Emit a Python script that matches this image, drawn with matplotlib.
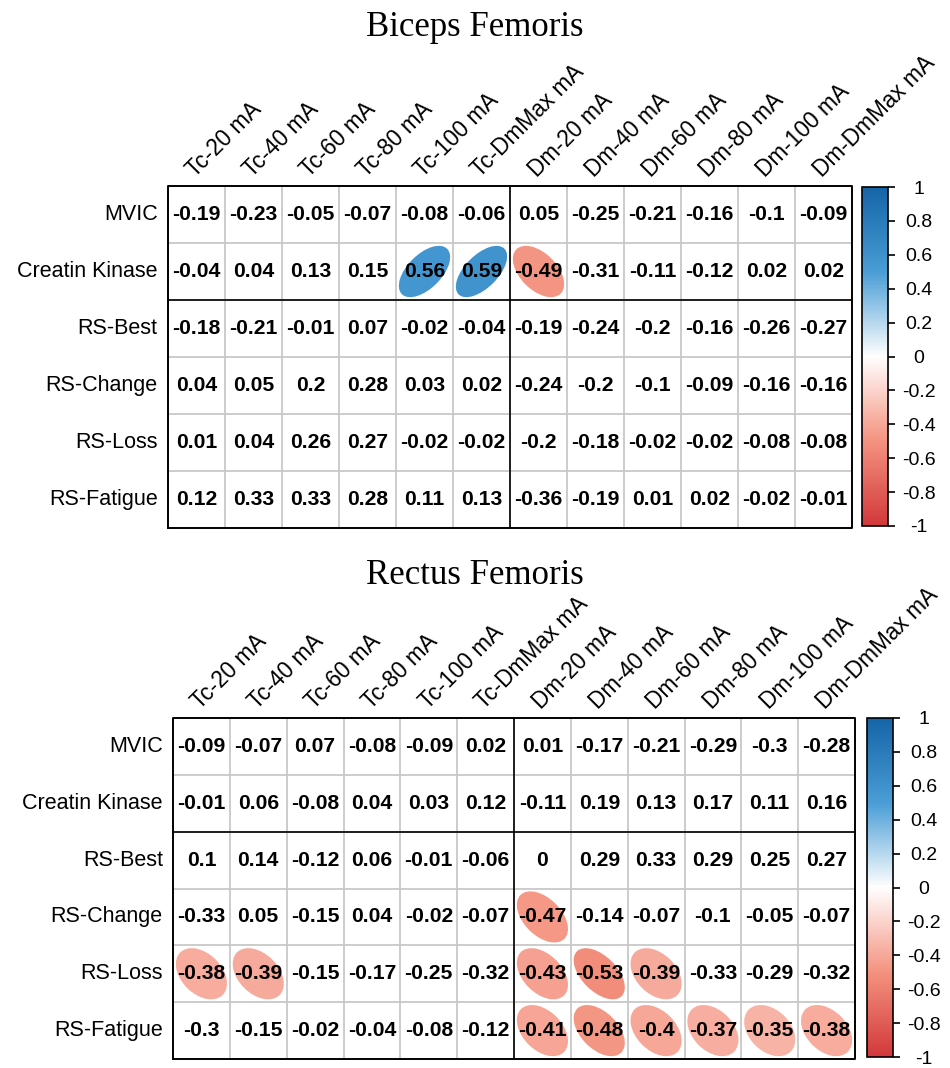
import numpy as np
import matplotlib
matplotlib.use('Agg')
import matplotlib.pyplot as plt
from matplotlib.colors import LinearSegmentedColormap, Normalize
from matplotlib.patches import Ellipse
from matplotlib.cm import ScalarMappable

# ---- data ----
row_labels = ['MVIC', 'Creatin Kinase', 'RS-Best', 'RS-Change', 'RS-Loss', 'RS-Fatigue']
col_labels = ['Tc-20 mA', 'Tc-40 mA', 'Tc-60 mA', 'Tc-80 mA', 'Tc-100 mA', 'Tc-DmMax mA',
              'Dm-20 mA', 'Dm-40 mA', 'Dm-60 mA', 'Dm-80 mA', 'Dm-100 mA', 'Dm-DmMax mA']

bf_values = [
    [-0.19, -0.23, -0.05, -0.07, -0.08, -0.06, 0.05, -0.25, -0.21, -0.16, -0.1, -0.09],
    [-0.04, 0.04, 0.13, 0.15, 0.56, 0.59, -0.49, -0.31, -0.11, -0.12, 0.02, 0.02],
    [-0.18, -0.21, -0.01, 0.07, -0.02, -0.04, -0.19, -0.24, -0.2, -0.16, -0.26, -0.27],
    [0.04, 0.05, 0.2, 0.28, 0.03, 0.02, -0.24, -0.2, -0.1, -0.09, -0.16, -0.16],
    [0.01, 0.04, 0.26, 0.27, -0.02, -0.02, -0.2, -0.18, -0.02, -0.02, -0.08, -0.08],
    [0.12, 0.33, 0.33, 0.28, 0.11, 0.13, -0.36, -0.19, 0.01, 0.02, -0.02, -0.01],
]
bf_sig = [
    [0, 0, 0, 0, 0, 0, 0, 0, 0, 0, 0, 0],
    [0, 0, 0, 0, 1, 1, 1, 0, 0, 0, 0, 0],
    [0, 0, 0, 0, 0, 0, 0, 0, 0, 0, 0, 0],
    [0, 0, 0, 0, 0, 0, 0, 0, 0, 0, 0, 0],
    [0, 0, 0, 0, 0, 0, 0, 0, 0, 0, 0, 0],
    [0, 0, 0, 0, 0, 0, 0, 0, 0, 0, 0, 0],
]

rf_values = [
    [-0.09, -0.07, 0.07, -0.08, -0.09, 0.02, 0.01, -0.17, -0.21, -0.29, -0.3, -0.28],
    [-0.01, 0.06, -0.08, 0.04, 0.03, 0.12, -0.11, 0.19, 0.13, 0.17, 0.11, 0.16],
    [0.1, 0.14, -0.12, 0.06, -0.01, -0.06, 0, 0.29, 0.33, 0.29, 0.25, 0.27],
    [-0.33, 0.05, -0.15, 0.04, -0.02, -0.07, -0.47, -0.14, -0.07, -0.1, -0.05, -0.07],
    [-0.38, -0.39, -0.15, -0.17, -0.25, -0.32, -0.43, -0.53, -0.39, -0.33, -0.29, -0.32],
    [-0.3, -0.15, -0.02, -0.04, -0.08, -0.12, -0.41, -0.48, -0.4, -0.37, -0.35, -0.38],
]
rf_sig = [
    [0, 0, 0, 0, 0, 0, 0, 0, 0, 0, 0, 0],
    [0, 0, 0, 0, 0, 0, 0, 0, 0, 0, 0, 0],
    [0, 0, 0, 0, 0, 0, 0, 0, 0, 0, 0, 0],
    [0, 0, 0, 0, 0, 0, 1, 0, 0, 0, 0, 0],
    [1, 1, 0, 0, 0, 0, 1, 1, 1, 0, 0, 0],
    [0, 0, 0, 0, 0, 0, 1, 1, 1, 1, 1, 1],
]

cbar_ticks = [-1, -0.8, -0.6, -0.4, -0.2, 0, 0.2, 0.4, 0.6, 0.8, 1]

cmap = LinearSegmentedColormap.from_list(
    'corr', [(0.0, '#D2383B'), (0.25, '#F4927F'), (0.5, '#FFFFFF'),
             (0.75, '#4A9DD6'), (1.0, '#1565A7')])
norm = Normalize(-1, 1)

W, H = 950, 1068
fig = plt.figure(figsize=(W / 100, H / 100), dpi=100)
SANS = ['Liberation Sans', 'DejaVu Sans']


def px_axes(x0, y0, x1, y1):
    return fig.add_axes([x0 / W, 1 - y1 / H, (x1 - x0) / W, (y1 - y0) / H])


def draw_panel(title, title_y, box, cbox, values, sig, label_gap):
    vals = np.array(values, dtype=float)
    nr, nc = vals.shape
    ax = px_axes(*box)
    ax.set_xlim(0, nc)
    ax.set_ylim(0, nr)
    ax.set_axis_off()

    # grid lines
    for i in range(1, nc):
        ax.plot([i, i], [0, nr], color='#C8C8C8', lw=1.3, zorder=1)
    for j in range(1, nr):
        ax.plot([0, nc], [j, j], color='#C8C8C8', lw=1.3, zorder=1)

    # 椭圆: corrplot 同款形状
    s = 0.9
    for i in range(nr):
        y = nr - 1 - i + 0.5
        for j in range(nc):
            x = j + 0.5
            r = vals[i, j]
            if sig[i][j]:
                a = np.arccos(r) / 2
                e = Ellipse((x, y), width=2 * np.cos(a) / np.sqrt(2) * s,
                            height=2 * np.sin(a) / np.sqrt(2) * s, angle=45,
                            facecolor=cmap(norm(r)), edgecolor='none', zorder=2)
                ax.add_patch(e)
            ax.text(x, y, '%g' % r, ha='center', va='center', fontsize=15.2,
                    fontweight='bold', family=SANS, zorder=3)

    # separators and border
    ax.plot([6, 6], [0, nr], color='black', lw=1.2, zorder=4)
    ax.plot([0, nc], [4, 4], color='black', lw=1.2, zorder=4)
    ax.plot([0, nc, nc, 0, 0], [0, 0, nr, nr, 0], color='black', lw=1.4,
            zorder=4, clip_on=False)

    for i, lab in enumerate(row_labels):
        ax.text(-label_gap, nr - 1 - i + 0.5, lab, ha='right', va='center',
                fontsize=15.5, family=SANS, clip_on=False)
    for j, lab in enumerate(col_labels):
        ax.text(j + 0.4, nr + 0.22, lab, ha='left', va='center', rotation=45,
                rotation_mode='anchor', fontsize=16.3, family=SANS, clip_on=False)

    fig.text(0.5, 1 - title_y / H, title, ha='center', va='center', fontsize=25,
             family=['Liberation Serif', 'DejaVu Serif'])

    cax = px_axes(*cbox)
    cb = fig.colorbar(ScalarMappable(norm=norm, cmap=cmap), cax=cax, ticks=cbar_ticks)
    cb.outline.set_linewidth(1.2)
    cb.outline.set_edgecolor('black')
    cax.tick_params(length=5, width=1.2, pad=17, labelsize=14)
    cax.set_yticklabels(['%g' % t for t in cbar_ticks])
    for t in cax.get_yticklabels():
        t.set_ha('center')
        t.set_family(SANS)


draw_panel('Biceps Femoris', 28, (168, 186, 852, 528), (862, 187, 888, 526),
           bf_values, bf_sig, 0.18)
draw_panel('Rectus Femoris', 575, (173, 718, 855, 1059), (867, 718, 893, 1057),
           rf_values, rf_sig, 0.18)

fig.savefig('out.png', dpi=100)
